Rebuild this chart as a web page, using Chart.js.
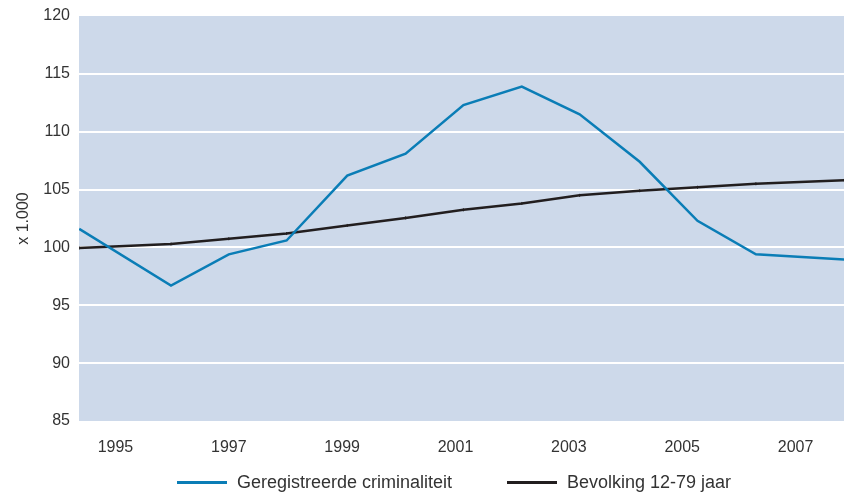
<!DOCTYPE html>
<html lang="nl">
<head>
    <meta charset="UTF-8">
    <title>Geregistreerde criminaliteit en bevolking</title>
    <script src="https://cdn.jsdelivr.net/npm/chart.js"></script>
    <style>
        html, body { margin: 0; padding: 0; background: #fff; }
        #wrap { position: relative; width: 849px; height: 494px; font-family: "Liberation Sans", Arial, sans-serif; }
        #legend { position: absolute; left: 0; top: 470px; width: 849px; height: 24px; }
        .item { position: absolute; top: 0; display: flex; align-items: center; height: 24px; font-size: 18px; color: #333; }
        .swatch { display: inline-block; width: 50px; height: 3px; margin-right: 10px; }
    </style>
</head>
<body>
    <div id="wrap">
        <canvas id="crimeChart" width="849" height="494"></canvas>
        <div id="legend"></div>
    </div>

    <script>
        // positions along the year axis (line starts and ends at the plot edges)
        const years = [1994.36, 1995.98, 1997.0, 1998.02, 1999.09, 2000.12, 2001.14,
                       2002.17, 2003.19, 2004.25, 2005.27, 2006.30, 2007.86];
        const crime = [101.6, 96.7, 99.4, 100.6, 106.2, 108.1, 112.3,
                       113.9, 111.5, 107.4, 102.3, 99.4, 98.95];
        const population = [99.95, 100.3, 100.75, 101.2, 101.9, 102.55, 103.25,
                            103.8, 104.5, 104.9, 105.2, 105.5, 105.8];
        const yearTicks = [1995, 1997, 1999, 2001, 2003, 2005, 2007];
        const seriesNames = ['Geregistreerde criminaliteit', 'Bevolking 12-79 jaar'];

        const plotBg = {
            id: 'plotBg',
            beforeDraw(chart) {
                const a = chart.chartArea;
                const ctx = chart.ctx;
                ctx.save();
                ctx.fillStyle = '#cdd9ea';
                ctx.fillRect(a.left, a.top, a.right - a.left, a.bottom - a.top);
                ctx.restore();
            }
        };

        const ctx = document.getElementById('crimeChart').getContext('2d');
        const chart = new Chart(ctx, {
            type: 'line',
            data: {
                datasets: [{
                    label: seriesNames[0],
                    data: years.map((y, i) => ({x: y, y: crime[i]})),
                    borderColor: '#0a7db6',
                    backgroundColor: '#0a7db6',
                    borderWidth: 2.5,
                    pointRadius: 0,
                    tension: 0
                }, {
                    label: seriesNames[1],
                    data: years.map((y, i) => ({x: y, y: population[i]})),
                    borderColor: '#221e1f',
                    backgroundColor: '#221e1f',
                    borderWidth: 2.5,
                    pointStyle: 'line',
                    rotation: 90,
                    pointRadius: 1.5,
                    pointBorderWidth: 1,
                    tension: 0
                }]
            },
            options: {
                responsive: false,
                animation: false,
                layout: { padding: { top: 16, right: 3, left: 0, bottom: 0 } },
                plugins: {
                    legend: { display: false },
                    tooltip: { enabled: false }
                },
                scales: {
                    x: {
                        type: 'linear',
                        min: 1994.357,
                        max: 2007.855,
                        afterBuildTicks: (scale) => {
                            scale.ticks = yearTicks.map(v => ({value: v}));
                        },
                        afterFit: (scale) => {
                            scale.height = 73;
                            scale.paddingLeft = 0;
                            scale.paddingRight = 0;
                        },
                        grid: { display: false },
                        border: { display: false },
                        ticks: {
                            padding: 9,
                            maxRotation: 0,
                            autoSkip: false,
                            color: '#333',
                            font: { family: 'Liberation Sans', size: 16 },
                            callback: (v) => String(v)
                        }
                    },
                    y: {
                        min: 85,
                        max: 120,
                        afterFit: (scale) => {
                            scale.width = 79;
                            scale.paddingTop = 0;
                            scale.paddingBottom = 0;
                        },
                        border: { display: false },
                        grid: {
                            drawTicks: false,
                            lineWidth: 2,
                            color: (c) => (c.tick && (c.tick.value === 85 || c.tick.value === 120)) ? 'rgba(0,0,0,0)' : '#ffffff'
                        },
                        ticks: {
                            stepSize: 5,
                            padding: 9,
                            color: '#333',
                            font: { family: 'Liberation Sans', size: 16 }
                        },
                        title: {
                            display: true,
                            text: 'x 1.000',
                            color: '#333',
                            padding: { top: 14, bottom: 0 },
                            font: { family: 'Liberation Sans', size: 16 }
                        }
                    }
                }
            },
            plugins: [plotBg]
        });

        // legend below the chart
        const legendLeft = [177, 507];
        const legend = document.getElementById('legend');
        chart.data.datasets.forEach((ds, i) => {
            const item = document.createElement('div');
            item.className = 'item';
            item.style.left = legendLeft[i] + 'px';
            const sw = document.createElement('span');
            sw.className = 'swatch';
            sw.style.background = ds.borderColor;
            item.appendChild(sw);
            item.appendChild(document.createTextNode(ds.label));
            legend.appendChild(item);
        });
    </script>
</body>
</html>
